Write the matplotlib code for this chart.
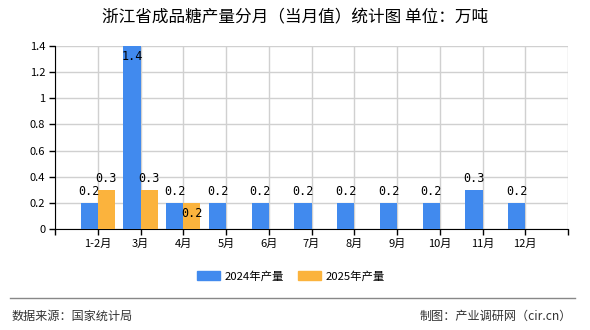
import matplotlib
matplotlib.use("Agg")
import matplotlib.pyplot as plt
from matplotlib.patches import Patch
from matplotlib.lines import Line2D

plt.rcParams['font.family'] = ['Noto Sans CJK SC', 'DejaVu Sans']

months = ['1-2月', '3月', '4月', '5月', '6月', '7月', '8月', '9月', '10月', '11月', '12月']
prod_2024 = [0.2, 1.4, 0.2, 0.2, 0.2, 0.2, 0.2, 0.2, 0.2, 0.3, 0.2]
prod_2025 = [0.3, 0.3, 0.2]
yticks = [0, 0.2, 0.4, 0.6, 0.8, 1, 1.2, 1.4]

blue = '#418AEE'
orange = '#FBB33D'

fig = plt.figure(figsize=(5.9, 3.3), dpi=100)
ax = fig.add_axes([55 / 590, 1 - 229 / 330, 513 / 590, 183 / 330])

x = list(range(len(months)))
w = 0.4
ax.bar([i - w / 2 for i in x], prod_2024, width=w, color=blue, zorder=3)
ax.bar([i + w / 2 for i in range(len(prod_2025))], prod_2025, width=w, color=orange, zorder=3)

ax.set_xlim(-1, 11)
ax.set_ylim(0, 1.4)
ax.set_xticks([-1] + x + [11])
ax.set_xticklabels([''] + months + [''], fontsize=8)
ax.set_yticks(yticks)
ax.set_yticklabels([('%g' % v) for v in yticks], fontsize=8)
ax.grid(True, color='#d0d0d0', linewidth=1, zorder=0)
for s in ['top', 'right']:
    ax.spines[s].set_visible(False)
ax.spines['left'].set_color('black')
ax.spines['bottom'].set_color('black')
ax.tick_params(length=4, width=1, pad=3)

lab_kw = dict(ha='center', fontsize=8.5, family=['DejaVu Sans Mono'], zorder=4)
for i, v in enumerate(prod_2024):
    if v >= 1.4:
        ax.text(i - w / 2, v - 0.03, '%g' % v, va='top', **lab_kw)
    else:
        ax.text(i - w / 2, v + 0.04, '%g' % v, va='bottom', **lab_kw)
for i, v in enumerate(prod_2025):
    if abs(v - prod_2024[i]) < 0.05:
        ax.text(i + w / 2, v - 0.03, '%g' % v, va='top', **lab_kw)
    else:
        ax.text(i + w / 2, v + 0.04, '%g' % v, va='bottom', **lab_kw)

fig.text(0.5, 1 - 18 / 330, '浙江省成品糖产量分月（当月值）统计图 单位：万吨', ha='center', va='center', fontsize=12)

handles = [Patch(color=blue, label='2024年产量'), Patch(color=orange, label='2025年产量')]
fig.legend(handles=handles, loc='center', bbox_to_anchor=(291 / 590, 1 - 276 / 330), ncol=2, frameon=False,
           fontsize=8.2, handlelength=2.0, handleheight=0.8, columnspacing=1.2, handletextpad=0.45)

fig.add_artist(Line2D([10 / 590, 575 / 590], [1 - 298 / 330] * 2, color='#888888', linewidth=1))
fig.text(12 / 590, 1 - 316 / 330, '数据来源：国家统计局', ha='left', va='center', fontsize=8.7, color='#333333')
fig.text(572 / 590, 1 - 316 / 330, '制图：产业调研网（cir.cn）', ha='right', va='center', fontsize=8.7, color='#333333')

fig.savefig('out.png', dpi=100)
